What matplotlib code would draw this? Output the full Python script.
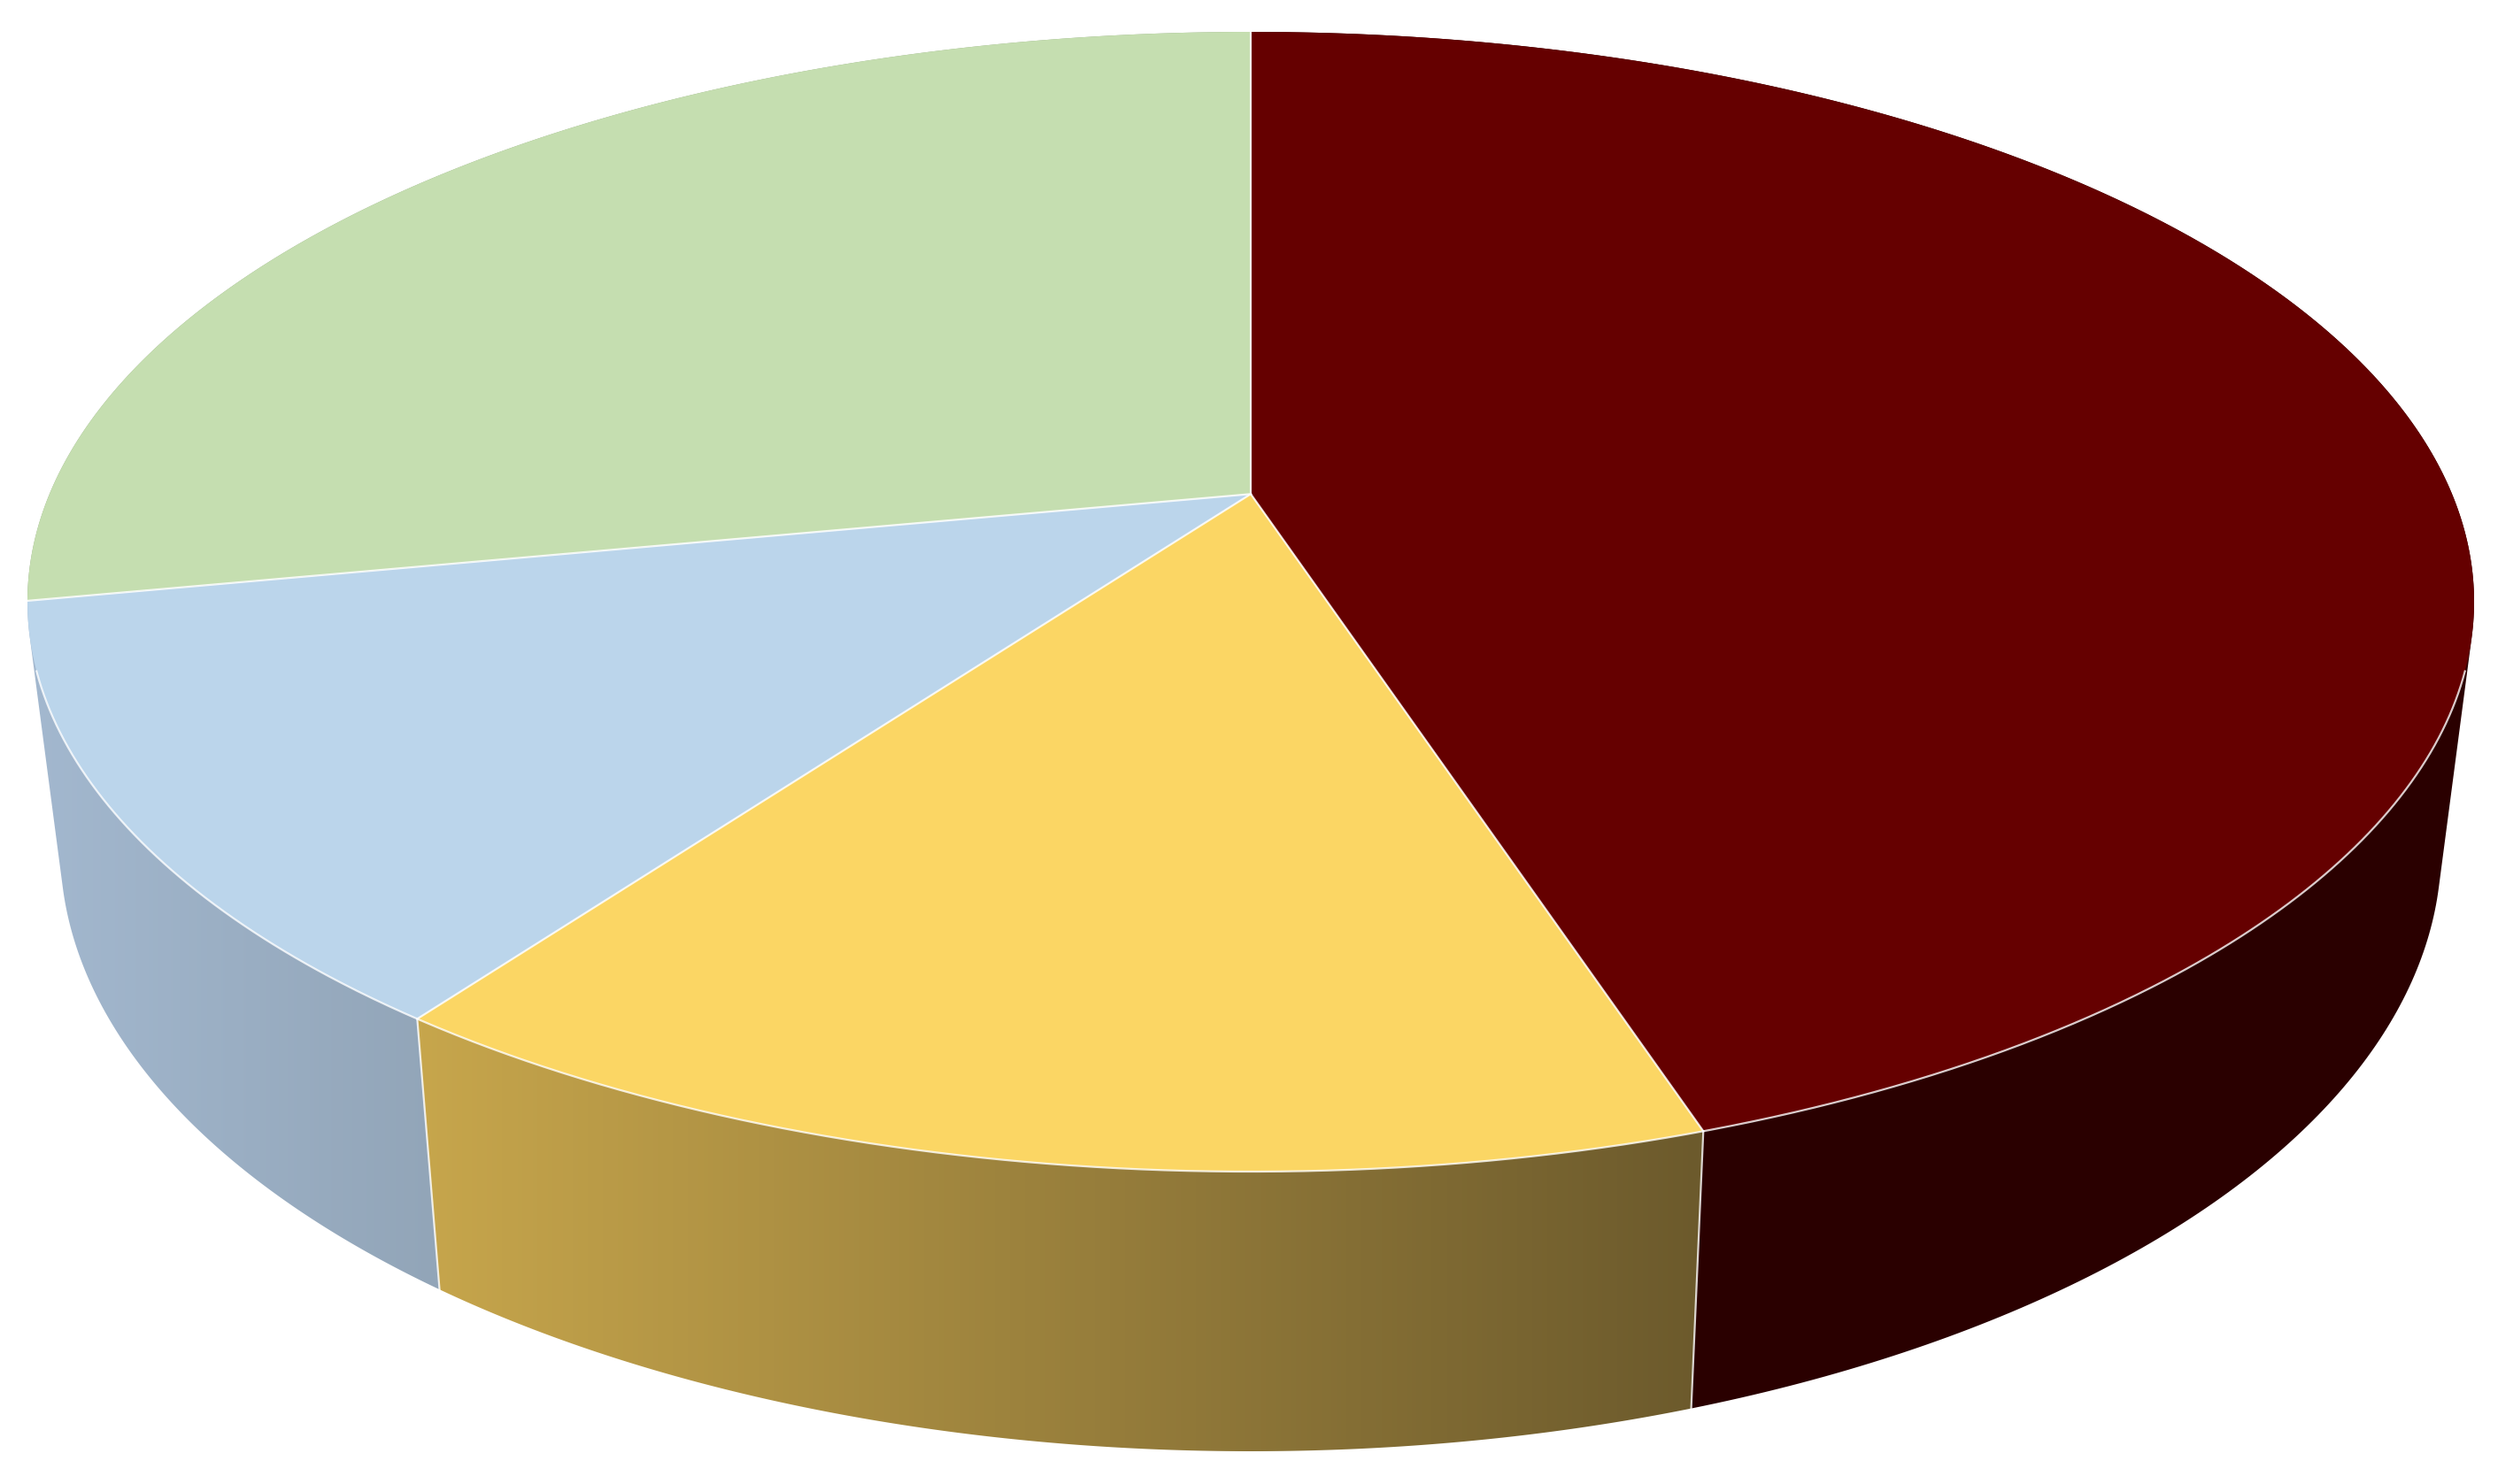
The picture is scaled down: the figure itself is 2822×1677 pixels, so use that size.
import matplotlib
matplotlib.use('Agg')
import matplotlib.pyplot as plt
from matplotlib.patches import Polygon
import numpy as np

# share of each slice, clockwise from 12 o'clock
categories = ['A', 'B', 'C', 'D']
values = [45, 15, 12, 28]
top_colors = ['#650000', '#FBD664', '#BBD5EB', '#C5DEB0']
wall_left = [(42, 0, 0), (199, 166, 76), (163, 184, 207), (150, 170, 135)]
wall_right = [(42, 0, 0), (108, 90, 44), (146, 165, 184), (150, 170, 135)]

W, H = 2822, 1677

# outline of the top face and of the bottom rim, in pixels
CX = 1413
TOP_CY, TOP_A, TOP_B = 680, 1382, 644
BOT_CY, BOT_A, BOT_B = 958, 1345, 682
TILT = 0.189


def disc(theta):
    # perspective of a flat circle: pie centre does not sit in the ellipse centre
    x = np.sin(theta)
    y = np.cos(theta)
    d = 1 + TILT * y
    return x * np.sqrt(1 - TILT ** 2) / d, (y + TILT) / d


def top_xy(theta):
    x, y = disc(theta)
    return CX + TOP_A * x, TOP_CY - TOP_B * y


def bottom_xy(theta):
    x, y = disc(theta)
    return CX + BOT_A * x, BOT_CY - BOT_B * y


def hull(points):
    # monotone chain, the wall outline has to include the tangent between rims
    pts = sorted(map(tuple, points))

    def half(seq):
        out = []
        for p in seq:
            while len(out) > 1 and ((out[-1][0] - out[-2][0]) * (p[1] - out[-2][1])
                                    - (out[-1][1] - out[-2][1]) * (p[0] - out[-2][0])) <= 0:
                out.pop()
            out.append(p)
        return out[:-1]

    return np.array(half(pts) + half(pts[::-1]))


fig = plt.figure(figsize=(W / 100, H / 100), dpi=100)
ax = fig.add_axes([0, 0, 1, 1])

edges = np.cumsum([0] + values) / sum(values) * 2 * np.pi
apex = CX, TOP_CY - TOP_B * TILT

# side walls first, the top face covers whatever is hidden
# back to front so each hull only hides what is behind it
for i in [3, 0, 2, 1]:
    theta = np.linspace(edges[i], edges[i + 1], 300)
    tx, ty = top_xy(theta)
    bx, by = bottom_xy(theta)
    pts = hull(np.column_stack([np.r_[tx, bx], np.r_[ty, by]]))
    clip = Polygon(pts, closed=True, fc='none', ec='none', transform=ax.transData)
    ax.add_patch(clip)

    x0, x1 = pts[:, 0].min(), pts[:, 0].max()
    grad = np.linspace(wall_left[i], wall_right[i], 256)[np.newaxis, :, :] / 255
    im = ax.imshow(grad, extent=[x0, x1, pts[:, 1].max(), pts[:, 1].min()],
                   aspect='auto', zorder=1 + 0.01 * [3, 0, 2, 1].index(i))
    im.set_clip_path(clip)

# top face
for i in range(len(values)):
    theta = np.linspace(edges[i], edges[i + 1], 300)
    tx, ty = top_xy(theta)
    pts = np.column_stack([np.r_[apex[0], tx], np.r_[apex[1], ty]])
    ax.add_patch(Polygon(pts, closed=True, fc=top_colors[i], ec='none', zorder=2))

# thin white seams
LW = 1.6
for edge in edges[:-1]:
    t = np.array([edge])
    tx, ty = top_xy(t)
    ax.plot([apex[0], tx[0]], [apex[1], ty[0]], color='white', lw=LW, alpha=0.85, zorder=3)
    if disc(t)[1][0] < -0.12:
        bx, by = bottom_xy(t)
        ax.plot([tx[0], bx[0]], [ty[0], by[0]], color='white', lw=LW, alpha=0.8, zorder=3)

theta = np.linspace(0, 2 * np.pi, 2000)
front = disc(theta)[1] < -0.12
tx, ty = top_xy(theta[front])
ax.plot(tx, ty, color='white', lw=LW, alpha=0.8, zorder=3)

ax.set_xlim(0, W)
ax.set_ylim(H, 0)
ax.axis('off')

fig.savefig('out.png', dpi=100, facecolor='white')
